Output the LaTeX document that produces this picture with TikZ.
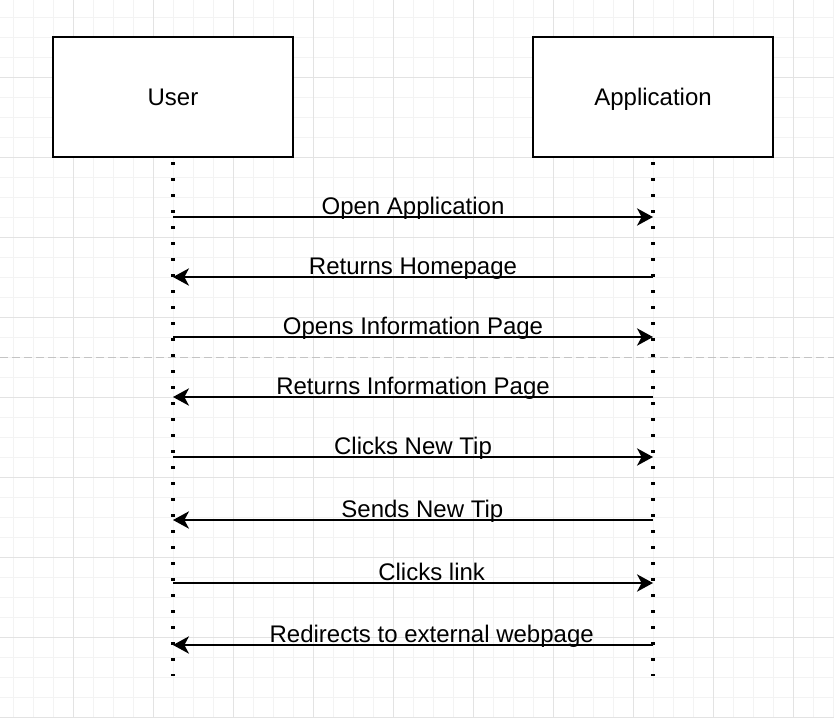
\documentclass[tikz,border=0pt]{standalone}
\usepackage{fontspec}
\setmainfont{Liberation Sans}
\usetikzlibrary{arrows.meta}

\definecolor{gridminor}{HTML}{F3F3F3}
\definecolor{gridmajor}{HTML}{E3E3E3}
\definecolor{pagebreak}{HTML}{C4C4C4}

\tikzset{
    actor/.style={draw, line width=1.5pt, fill=white, minimum width=180pt,
        minimum height=90pt, text height=12.8pt, text depth=0pt,
        font=\fontsize{18}{22}\selectfont},
    lifeline/.style={line width=2.6pt, dash pattern=on 2.6pt off 9.4pt},
    msg/.style={line width=1.5pt, -{Stealth[length=12pt, width=13pt, inset=3.5pt]}},
    msglabel/.style={midway, anchor=base, yshift=2pt, inner sep=0pt,
        font=\fontsize{18}{22}\selectfont}
}

\begin{document}
\begin{tikzpicture}[x=0.75pt, y=-0.75pt]

    % Canvas
    \useasboundingbox (0,0) rectangle (834,718);
    \fill[white] (0,0) rectangle (834,718);

    % Background grid
    \foreach \gx in {13,33,...,833}
        \draw[gridminor, line width=0.75pt] (\gx,0) -- (\gx,718);
    \foreach \gy in {17,37,...,717}
        \draw[gridminor, line width=0.75pt] (0,\gy) -- (834,\gy);
    \foreach \gx in {73,153,...,833}
        \draw[gridmajor, line width=0.75pt] (\gx,0) -- (\gx,718);
    \foreach \gy in {77,157,...,717}
        \draw[gridmajor, line width=0.75pt] (0,\gy) -- (834,\gy);

    % Page break
    \draw[pagebreak, line width=0.75pt, dash pattern=on 6pt off 3pt] (0,357) -- (834,357);

    % Actors
    \node[actor] (user) at (173,97) {User};
    \node[actor] (app) at (653,97) {Application};

    % Lifelines
    \coordinate (user-end) at (173,676);
    \coordinate (app-end) at (653,676);
    \draw[lifeline] ([yshift=-3pt]user.south) -- (user-end);
    \draw[lifeline] ([yshift=-3pt]app.south) -- (app-end);

    % Message points
    \coordinate (u1) at (173,217); \coordinate (a1) at (653,217);
    \coordinate (u2) at (173,277); \coordinate (a2) at (653,277);
    \coordinate (u3) at (173,337); \coordinate (a3) at (653,337);
    \coordinate (u4) at (173,397); \coordinate (a4) at (653,397);
    \coordinate (u5) at (173,457); \coordinate (a5) at (653,457);
    \coordinate (u6) at (173,520); \coordinate (a6) at (653,520);
    \coordinate (u7) at (173,583); \coordinate (a7) at (653,583);
    \coordinate (u8) at (173,645); \coordinate (a8) at (653,645);

    % Messages
    \draw[msg] (u1) -- (a1) node[msglabel] {Open Application};
    \draw[msg] (a2) -- (u2) node[msglabel] {Returns Homepage};
    \draw[msg] (u3) -- (a3) node[msglabel] {Opens Information Page};
    \draw[msg] (a4) -- (u4) node[msglabel] {Returns Information Page};
    \draw[msg] (u5) -- (a5) node[msglabel] {Clicks New Tip};
    \draw[msg] (a6) -- (u6) node[msglabel, xshift=7pt] {Sends New Tip};
    \draw[msg] (u7) -- (a7) node[msglabel, xshift=14pt] {Clicks link};
    \draw[msg] (a8) -- (u8) node[msglabel, xshift=14pt] {Redirects to external webpage};

\end{tikzpicture}
\end{document}
